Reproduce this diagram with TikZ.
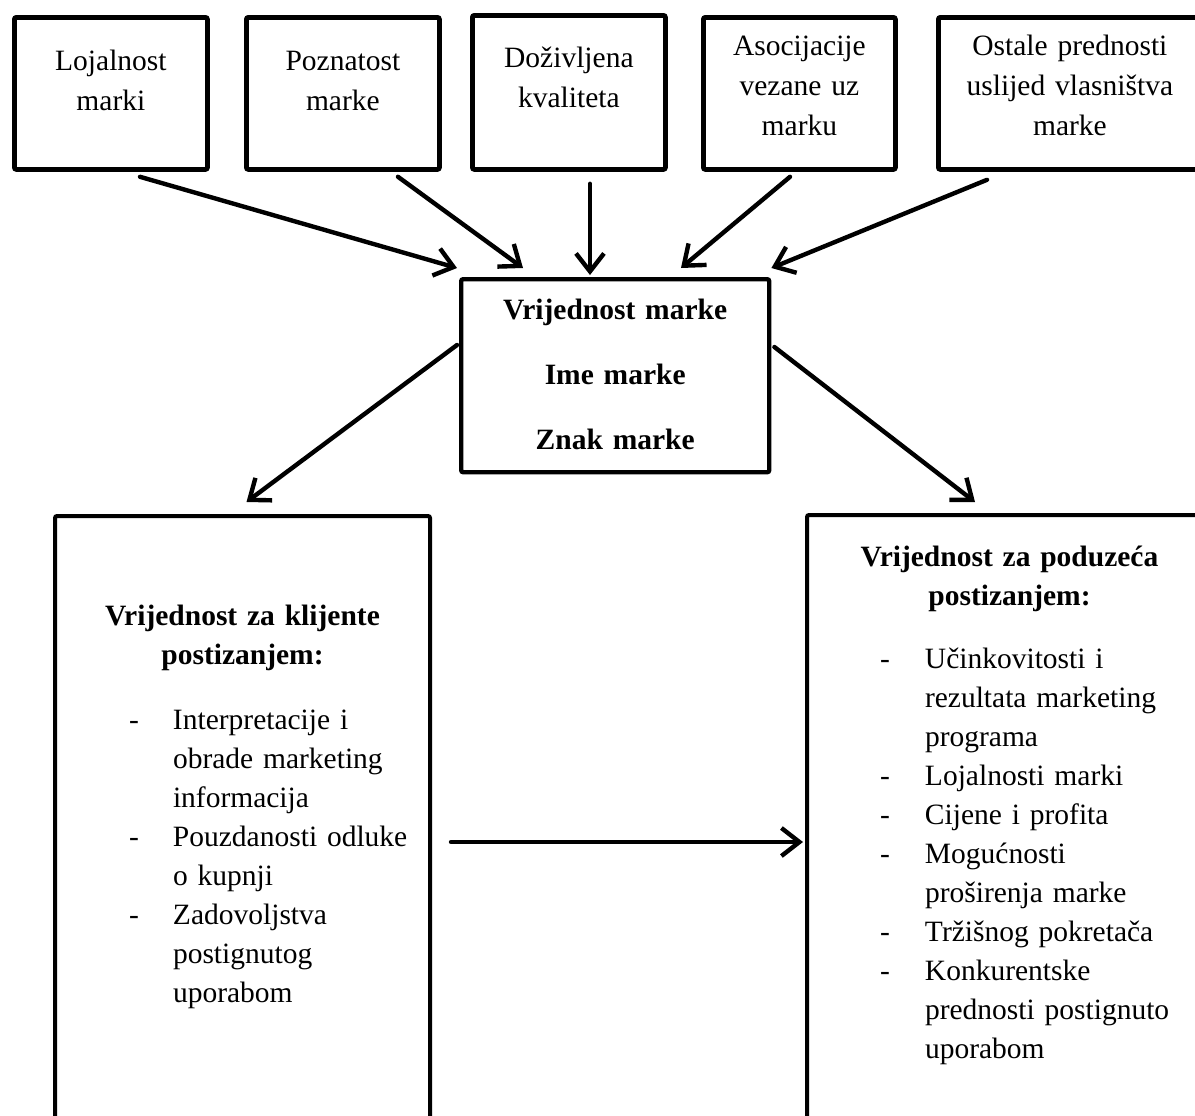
\documentclass[tikz,border=0pt]{standalone}
\usepackage{fontspec}
\setmainfont{Liberation Serif}
\usepackage{tikz}
\usetikzlibrary{arrows.meta,calc}

\begin{document}
\begin{tikzpicture}[x=0.5pt, y=-0.5pt, >={Straight Barb[length=9pt,width=14pt]}, line cap=round,
    box/.style={draw, line width=2.4pt, rounded corners=1pt, inner sep=0pt, anchor=north west, align=center, font=\fontsize{14.75pt}{20pt}\selectfont},
    bigbox/.style={box, line width=2pt, font=\fontsize{14.75pt}{19.5pt}\selectfont},
    conn/.style={->, line width=2.2pt}]
    \useasboundingbox (0,0) rectangle (1195,1115);
    \clip (0,0) rectangle (1195,1115);

    % top row
    \node[box, text width=96.5pt, text height=26.5pt, text depth=49.5pt] (B1) at (12,15) {Lojalnost\\marki};
    \node[box, text width=96.5pt, text height=26.5pt, text depth=49.5pt] (B2) at (244,15) {Poznatost\\marke};
    \node[box, text width=96.5pt, text height=26pt, text depth=51pt] (B3) at (470,13) {Doživljena\\kvaliteta};
    \node[box, text width=96pt, text height=19pt, text depth=57pt] (B4) at (701,15) {Asocijacije\\vezane uz\\marku};
    \node[box, text width=131.5pt, text height=19pt, text depth=57pt] (B5) at (936,15) {Ostale prednosti\\uslijed vlasništva\\marke};

    % middle
    \node[box, line width=2.2pt, text width=154pt, text height=20pt, text depth=76.5pt] (V) at (459,277)
        {\textbf{Vrijednost marke}\\[12.5pt]\textbf{Ime marke}\\[12.5pt]\textbf{Znak marke}};

    % bottom
    \node[bigbox, text width=187.5pt, text height=54.5pt, text depth=253.5pt] (K) at (53,514)
        {\textbf{Vrijednost za klijente}\\\textbf{postizanjem:}\\[13pt]
        \makebox[\linewidth][l]{\hspace{37pt}\begin{tabular}[t]{@{}p{22pt}@{}l@{}}
        -&Interpretacije i\\ &obrade marketing\\ &informacija\\
        -&Pouzdanosti odluke\\ &o kupnji\\
        -&Zadovoljstva\\ &postignutog\\ &uporabom
        \end{tabular}}};
    \node[bigbox, text width=202.5pt, text height=25.5pt, text depth=283pt] (P) at (805,513)
        {\textbf{Vrijednost za poduzeća}\\\textbf{postizanjem:}\\[12pt]
        \makebox[\linewidth][l]{\hspace{36.5pt}\begin{tabular}[t]{@{}p{22.5pt}@{}l@{}}
        -&Učinkovitosti i\\ &rezultata marketing\\ &programa\\
        -&Lojalnosti marki\\
        -&Cijene i profita\\
        -&Mogućnosti\\ &proširenja marke\\
        -&Tržišnog pokretača\\
        -&Konkurentske\\ &prednosti postignuto\\ &uporabom
        \end{tabular}}};

    \path[conn]
        ($(B1.south west)+(128,5)$) edge ($(V.north west)+(-2,-9)$)
        ($(B2.south west)+(154,5)$) edge ($(V.north west)+(64,-9)$)
        ($(B3.south west)+(120,12)$) edge ($(V.north west)+(131,-2)$)
        ($(B4.south west)+(89,5)$) edge ($(V.north west)+(222,-9)$)
        ($(B5.south west)+(51,8)$) edge ($(V.north east)+(0,-9)$)
        ($(V.north west)+(-2,68)$) edge ($(K.north)+(4,-12)$)
        ($(V.north east)+(3,70)$) edge ($(P.north west)+(170,-11)$)
        ($(K.north east)+(19,328)$) edge ($(P.north west)+(-2,329)$);
\end{tikzpicture}
\end{document}
